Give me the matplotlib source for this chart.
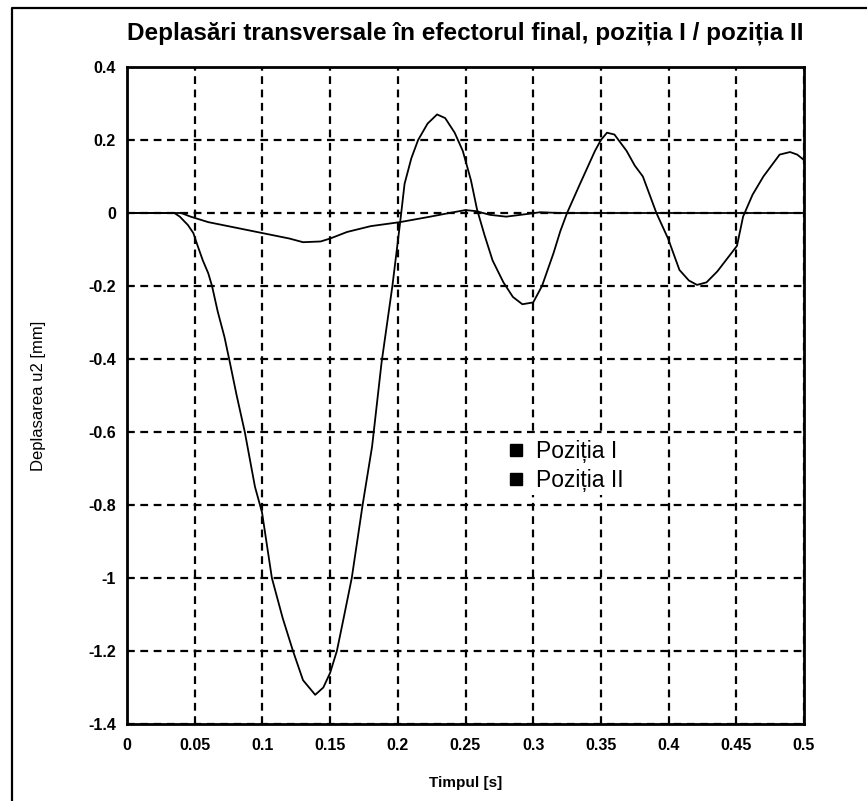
import matplotlib
matplotlib.use('Agg')
import matplotlib.pyplot as plt
from matplotlib.lines import Line2D

# Time samples and transverse displacement, position I
t_poz1 = [0.0, 0.02, 0.035, 0.039, 0.045, 0.049, 0.052, 0.056, 0.060, 0.0628,
          0.067, 0.072, 0.076, 0.081, 0.087, 0.0945, 0.0997, 0.107, 0.115, 0.1226,
          0.13, 0.139, 0.145, 0.15, 0.155, 0.16, 0.166, 0.174, 0.181, 0.188,
          0.196, 0.2016, 0.205, 0.21, 0.215, 0.222, 0.229, 0.235, 0.242, 0.248,
          0.254, 0.2585, 0.264, 0.27, 0.278, 0.285, 0.292, 0.30, 0.3065, 0.315,
          0.32, 0.325, 0.3346, 0.3456, 0.35, 0.3545, 0.36, 0.369, 0.375, 0.381,
          0.386, 0.391, 0.3996, 0.408, 0.415, 0.421, 0.428, 0.436, 0.4505, 0.455,
          0.462, 0.47, 0.482, 0.4897, 0.495, 0.5]
u2_poz1 = [0.0, 0.0, 0.0, -0.01, -0.033, -0.055, -0.088, -0.13, -0.165, -0.20,
           -0.27, -0.34, -0.41, -0.50, -0.60, -0.75, -0.82, -1.0, -1.11, -1.20,
           -1.28, -1.32, -1.30, -1.26, -1.20, -1.11, -1.0, -0.80, -0.64, -0.41,
           -0.20, -0.03, 0.08, 0.15, 0.20, 0.245, 0.27, 0.26, 0.22, 0.17,
           0.09, 0.01, -0.06, -0.13, -0.19, -0.23, -0.25, -0.245, -0.20, -0.11,
           -0.05, 0.0, 0.08, 0.17, 0.20, 0.22, 0.215, 0.17, 0.13, 0.10,
           0.05, 0.0, -0.07, -0.156, -0.185, -0.197, -0.19, -0.16, -0.09, -0.01,
           0.05, 0.10, 0.16, 0.167, 0.16, 0.145]

# Position II
t_poz2 = [0.0, 0.04, 0.047, 0.06, 0.08, 0.10, 0.12, 0.13, 0.143, 0.15,
          0.1625, 0.18, 0.2016, 0.224, 0.238, 0.25, 0.258, 0.268, 0.28, 0.295,
          0.305, 0.32, 0.5]
u2_poz2 = [0.0, 0.0, -0.01, -0.025, -0.04, -0.055, -0.07, -0.08, -0.078, -0.07,
           -0.052, -0.036, -0.025, -0.01, 0.0, 0.008, 0.005, -0.005, -0.01, -0.003,
           0.002, 0.0, 0.0]

x_ticks = [0, 0.05, 0.1, 0.15, 0.2, 0.25, 0.3, 0.35, 0.4, 0.45, 0.5]
x_labels = ['0', '0.05', '0.1', '0.15', '0.2', '0.25', '0.3', '0.35', '0.4', '0.45', '0.5']
y_ticks = [-1.4, -1.2, -1, -0.8, -0.6, -0.4, -0.2, 0, 0.2, 0.4]
y_labels = ['-1.4', '-1.2', '-1', '-0.8', '-0.6', '-0.4', '-0.2', '0', '0.2', '0.4']
legend_labels = ['Poziția I', 'Poziția II']

fonts = ['Liberation Sans', 'DejaVu Sans']

fig = plt.figure(figsize=(8.67, 8.01), dpi=100)
ax = fig.add_axes([127 / 867, 77 / 801, 677 / 867, 657 / 801])

ax.plot(t_poz1, u2_poz1, color='black', linewidth=1.3)
ax.plot(t_poz2, u2_poz2, color='black', linewidth=1.3)

ax.set_xlim(0, 0.5)
ax.set_ylim(-1.4, 0.4)
ax.set_xticks(x_ticks)
ax.set_xticklabels(x_labels, family=fonts, fontweight='bold', fontsize=11.5)
ax.set_yticks(y_ticks)
ax.set_yticklabels(y_labels, family=fonts, fontweight='bold', fontsize=11.5)
ax.tick_params(axis='x', direction='in', length=0, pad=10)
ax.tick_params(axis='y', direction='in', length=0, pad=8)

ax.grid(True, color='black', linestyle=(0, (3.5, 2.5)), linewidth=1.6)
for sp in ax.spines.values():
    sp.set_linewidth(2)

ax.set_title('Deplasări transversale în efectorul final, poziția I / poziția II',
             family=fonts, fontweight='bold', fontsize=17.5, pad=20)
ax.set_xlabel('Timpul [s]', family=fonts, fontweight='bold', fontsize=11, labelpad=17)
ax.set_ylabel('Deplasarea u2 [mm]', family=fonts, fontsize=12, labelpad=30)

handles = [Line2D([], [], color='black', marker='s', linestyle='none', markersize=8.5),
           Line2D([], [], color='black', marker='s', linestyle='none', markersize=8.5)]
leg = ax.legend(handles, legend_labels, loc='center left', bbox_to_anchor=(0.537, 0.393),
                frameon=True, fancybox=False, edgecolor='none', framealpha=1,
                prop={'family': fonts, 'size': 16.5}, handletextpad=0.45,
                labelspacing=0.25, borderpad=0.15, handlelength=0.9)

# border around the figure
fig.add_artist(Line2D([12 / 867, 12 / 867, 1.0], [0.0, 1 - 8 / 801, 1 - 8 / 801],
                      transform=fig.transFigure, color='black', linewidth=1.6))

fig.savefig('out.png', dpi=100)
